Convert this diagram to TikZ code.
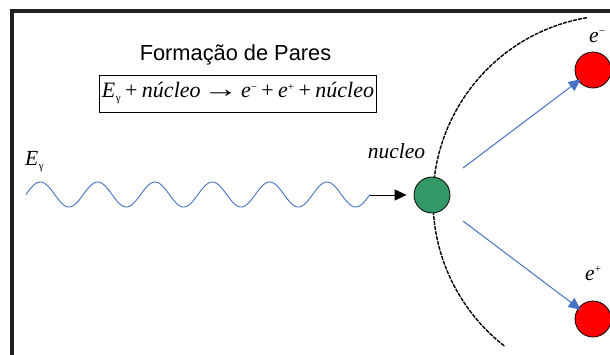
\documentclass[tikz,border=0pt]{standalone}
\usepackage{fontspec}
\usepackage{graphicx}
\setmainfont{Liberation Serif}
\newfontfamily\titlefont{Liberation Sans}
\usetikzlibrary{arrows.meta}
\definecolor{framecol}{HTML}{231F20}
\definecolor{wavecol}{HTML}{4472C4}
\definecolor{nuccol}{HTML}{339966}
\definecolor{partcol}{HTML}{FF0000}
\newcommand{\smallsym}[1]{{\fontsize{11}{11}\selectfont #1}}
\newcommand{\opsp}{\hspace{4.4pt}}
\newcommand{\arsp}{\hspace{2.6pt}}
\tikzset{
  framestyle/.style={draw=framecol, line width=4pt, line join=miter},
  eqbox/.style={draw=black, line width=0.9pt, minimum width=277pt, minimum height=37pt, inner sep=0pt},
  labeltext/.style={font=\fontsize{21.5}{24}\selectfont\itshape, inner sep=0pt},
  nucleus/.style={circle, draw=black, line width=0.8pt, fill=nuccol, minimum size=36pt, inner sep=0pt},
  particle/.style={circle, draw=black, line width=0.8pt, fill=partcol, minimum size=36pt, inner sep=0pt},
  bluearrow/.style={draw=wavecol, line width=1pt, -{Triangle[length=12pt, width=11pt]}},
  blackarrow/.style={draw=black, line width=1pt, -{Triangle[length=12pt, width=11pt]}},
  dashedarc/.style={draw=black, line width=1.4pt, dash pattern=on 4pt off 1.1pt}
}
\begin{document}
\begin{tikzpicture}[x=1pt, y=-1pt]
\useasboundingbox (0,0) rectangle (610,354);
\fill[white] (0,0) rectangle (610,354);
% frame
\draw[framestyle] (12,370) -- (12,11) -- (630,11);
% dashed arc (circle centre 618,200, radius 185)
\draw[dashedarc] (618,200) ++(260.3:185) arc[start angle=260.3, end angle=127.6, radius=185];
% title and equation
\node[font=\titlefont\fontsize{21.8}{24}\selectfont, anchor=base, inner sep=0pt] (title) at (235.5,60) {Formação de Pares};
\node[eqbox, font=\fontsize{22}{24}\selectfont] (eq) at (238,93.5) {\textit{E}\kern0.5pt\raisebox{-4pt}{\smallsym{γ}}\opsp+\opsp\textit{núcleo}\arsp\scalebox{1.6}[1.15]{→}\arsp\textit{e}\raisebox{7pt}{\smallsym{−}}\opsp+\opsp\textit{e}\raisebox{7pt}{\smallsym{+}}\opsp+\opsp\textit{núcleo}};
% photon
\node[labeltext, anchor=base west] (egamma) at (25,165) {E\kern0.5pt\raisebox{-4pt}{\smallsym{\upshape γ}}};
\draw[wavecol, line width=0.9pt] plot[domain=26:370, samples=240, smooth] (\x, {194.5-12.5*sin(6.2791*(\x-26))});
\coordinate (waveend) at (370,195);
% nucleus
\node[nucleus] (nuc) at (432,195) {};
\node[labeltext, anchor=base] (nuclabel) at (396.5,158) {nucleo};
\draw[blackarrow, shorten >=7pt] (waveend) -- (nuc);
% electron and positron
\node[particle] (eminus) at (593,70) {};
\node[particle] (eplus) at (593,319) {};
\node[labeltext, anchor=base west] (eminuslabel) at (589,42) {e\raisebox{8pt}{\smallsym{\upshape −}}};
\node[labeltext, anchor=base west] (epluslabel) at (585,280) {e\raisebox{8pt}{\smallsym{\upshape +}}};
\coordinate (up) at (463,168);
\coordinate (down) at (463,221);
\draw[bluearrow, shorten >=15.5pt] (up) -- (eminus.center);
\draw[bluearrow, shorten >=15.5pt] (down) -- (eplus.center);
\end{tikzpicture}
\end{document}
